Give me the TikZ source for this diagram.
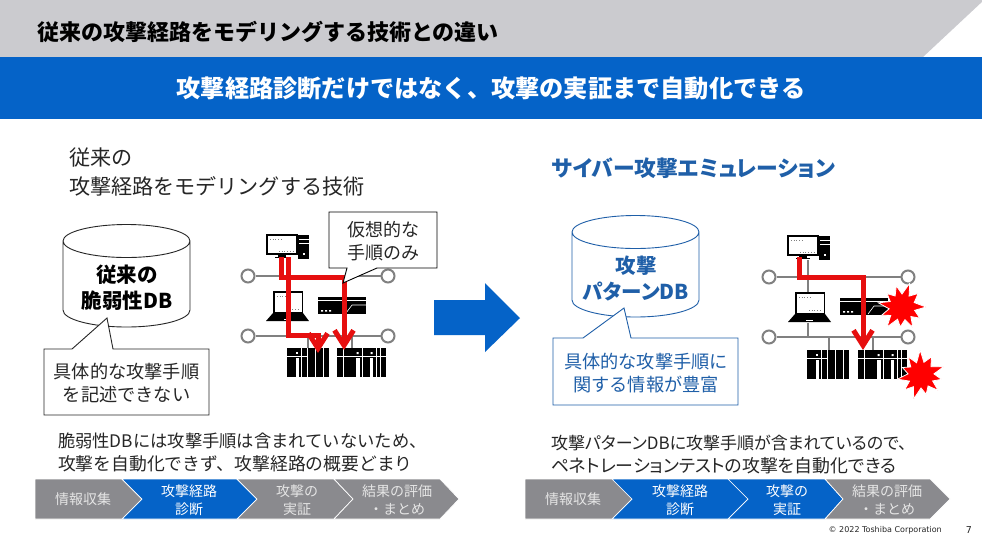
\documentclass[tikz,border=0pt]{standalone}
\usepackage{fontspec}
\setmainfont{Noto Sans CJK JP}
\newfontfamily\latinfoot{DejaVu Sans}
\newfontfamily\paltjp[RawFeature=+palt]{Noto Sans CJK JP}
\usetikzlibrary{arrows.meta,shapes.geometric}
\definecolor{tosblue}{HTML}{0563C8}
\definecolor{hdrgray}{HTML}{CBCBCF}
\definecolor{chevgray}{HTML}{8A8A8E}
\definecolor{netgray}{HTML}{808080}
\definecolor{darktxt}{HTML}{262626}
\definecolor{calloutblue}{HTML}{1F5FA8}
\definecolor{attackred}{HTML}{E60F0F}
\newcommand{\fs}[2]{\fontsize{#1}{#2}\selectfont}
\tikzset{
  x=1pt,y=-1pt,
  txt/.style={inner sep=0,outer sep=0,text=darktxt,align=center},
  txtl/.style={inner sep=0,outer sep=0,text=darktxt,align=left,anchor=west},
  chev/.style={draw=white,line width=.7pt,line join=miter},
  chevtxt/.style={inner sep=0,text=#1,align=center,font=\fs{14}{18}},
  endcircle/.style={circle,draw=netgray,line width=2pt,fill=white,minimum size=13pt,inner sep=0},
  netline/.style={draw=netgray,line width=1.6pt},
  redpath/.style={draw=attackred,line width=5pt,-{Straight Barb[length=15pt,width=19pt,line width=5pt]}},
  pics/spikes/.style={code={
    \fill[red,draw=white,line width=.8pt] (0:24) -- (15:13) -- (32:21) -- (47:13) -- (62:23) -- (77:13) -- (95:20) -- (110:13) -- (127:25) -- (143:14) -- (158:22) -- (172:13) -- (190:24) -- (205:13) -- (222:20) -- (238:13) -- (255:22) -- (270:13) -- (288:25) -- (303:13) -- (320:21) -- (340:13) -- cycle;
  }},
  pics/desktop/.style={code={
    \fill[black] (0,0) rectangle (32,21);
    \fill[white] (2,2) rectangle (30,19);
    \fill[black] (12,21) rectangle (20,23);
    \fill[black] (9,23) rectangle (23,24);
    \fill[black] (32,1) rectangle (43,25);
    \fill[white] (33,5) rectangle (43,6);
    \fill[white] (33,9) rectangle (43,10);
    \fill[white] (37,19) rectangle (39,21);
    \draw[gray,dotted,line width=.7pt] (4,5) -- (17,5) (13,17) -- (28,17);
  }},
  pics/laptop/.style={code={
    \fill[black] (7,0) rectangle (37,23);
    \fill[white] (8.5,1.5) rectangle (35.5,21);
    \fill[black] (7,22) -- (37,22) -- (43,30) -- (0,30) -- cycle;
    \fill[white] (18,27.5) rectangle (25,29);
    \draw[gray,dotted,line width=.7pt] (11,5) -- (22,5) (21,18) -- (33,18);
  }},
  pics/netswitch/.style={code={
    \fill[black] (0,0) rectangle (48,17);
    \fill[white] (0,3) rectangle (48,4.2);
    \fill[white] (3,13) rectangle (5,14.5) (7,13) rectangle (9,14.5) (11,13) rectangle (13,14.5);
    \draw[white,line width=.6pt] (28,16) -- (34,8) -- (48,8);
  }},
  pics/plcone/.style={code={
    \fill[black] (0,0) rectangle (42,29);
    \fill[white] (0,7.5) rectangle (20,8.2);
    \fill[white] (8.5,4) rectangle (11,6);
    \fill[white] (8.5,10) rectangle (11.5,29);
    \fill[white] (20,0) rectangle (20.8,29);
    \fill[white] (28,0) rectangle (28.8,29);
    \fill[white] (36,0) rectangle (36.8,29);
    \fill[white] (14,0) rectangle (14.8,29);
  }},
  pics/plctwo/.style={code={
    \fill[black] (0,0) rectangle (49,29);
    \fill[white] (0,8) rectangle (49,8.7);
    \fill[white] (6,0) rectangle (6.8,29);
    \fill[white] (25,0) rectangle (25.8,29);
    \fill[white] (39,0) rectangle (39.8,29);
    \fill[white] (43,0) rectangle (43.8,29);
    \fill[white] (19,10) rectangle (22.5,29);
    \fill[white] (33,10) rectangle (36,29);
    \fill[white] (19.5,4) rectangle (21.5,6) (33.5,4) rectangle (35.5,6);
  }},
}
\begin{document}
\begin{tikzpicture}
\useasboundingbox (0,0) rectangle (982,550);
\fill[white] (0,0) rectangle (982,550);
% header
\fill[hdrgray] (0,0) -- (984,0) -- (923,57) -- (0,57) -- cycle;
\fill[tosblue] (0,57) rectangle (982,119);
\node[txtl,font=\fs{22}{26}\bfseries,text=black] (title) at (37,32) {従来の攻撃経路をモデリングする技術との違い};
\node[txt,font=\fs{24.2}{28}\bfseries,text=white] (band) at (491,88) {攻撃経路診断だけではなく、攻撃の実証まで自動化できる};
% section headings
\node[txtl,font=\fs{21.1}{29}] (lefthead) at (69,172) {従来の\\攻撃経路をモデリングする技術};
\node[txtl,font=\paltjp\fs{21.8}{26}\bfseries,text=calloutblue] (righthead) at (552,168) {サイバー攻撃エミュレーション};
% left cylinder
\draw[line width=.9pt,draw=darktxt,fill=white] (63,241) arc[start angle=180,end angle=0,x radius=63.5,y radius=16.5]
  arc[start angle=0,end angle=-180,x radius=63.5,y radius=16.5] -- (63,310)
  arc[start angle=180,end angle=0,x radius=63.5,y radius=17] -- (190,241);
\node[txt,font=\fs{20.5}{26}\bfseries,text=black] (leftdb) at (127,288) {従来の\\脆弱性DB};
\draw[line width=.9pt,draw=darktxt,fill=white] (44,349) -- (72,349) -- (107,318) -- (113,349) -- (209,349) -- (209,415) -- (44,415) -- cycle;
\node[txt,font=\fs{18.2}{23}] (leftnote) at (126.5,383) {具体的な攻撃手順\\を記述できない};
% left network
\node[endcircle] (la) at (248,276) {};
\node[endcircle] (lb) at (388,276) {};
\node[endcircle] (lc) at (248,336) {};
\node[endcircle] (ld) at (388,336) {};
\draw[netline] (la) -- (lb);
\draw[netline] (lc) -- (ld);
\draw[netline] (308,336) -- (308,348);
\draw[netline] (352,336) -- (352,348);
\pic at (266,234) {desktop};
\pic at (266,291) {laptop};
\pic at (318,297) {netswitch};
\pic at (287,348) {plcone};
\pic at (337,348) {plctwo};
\coordinate (ls1) at (288,257);
\coordinate (le1) at (318,353);
\coordinate (ls2) at (281.5,257);
\coordinate (le2) at (344,350);
\draw[redpath] (ls1) -- (288,335) -- (318,335) -- (le1);
\draw[redpath] (ls2) -- (281.5,277) -- (344,277) -- (le2);
% left callout 2
\draw[line width=.9pt,draw=black,fill=white] (329,212) -- (437,212) -- (437,268) -- (377,268) -- (343,283) -- (347,268) -- (329,268) -- cycle;
\node[txt,font=\fs{18}{22.5}] (virt) at (383,241) {仮想的な\\手順のみ};
% big arrow
\fill[tosblue] (434,300) -- (485,300) -- (485,283) -- (520,318) -- (485,352) -- (485,335) -- (434,335) -- cycle;
% right cylinder
\draw[line width=.9pt,draw=calloutblue,fill=white] (572,232) arc[start angle=180,end angle=0,x radius=63.5,y radius=16.5]
  arc[start angle=0,end angle=-180,x radius=63.5,y radius=16.5] -- (572,300)
  arc[start angle=180,end angle=0,x radius=63.5,y radius=17] -- (699,232);
\node[txt,font=\paltjp\fs{20.5}{26}\bfseries,text=calloutblue] (rightdb) at (636,278) {攻撃\\パターンDB};
\draw[line width=.9pt,draw=calloutblue,fill=white] (553,338) -- (583,338) -- (624,308) -- (631,338) -- (738,338) -- (738,405) -- (553,405) -- cycle;
\node[txt,font=\fs{18.2}{23},text=calloutblue] (rightnote) at (646,373.5) {具体的な攻撃手順に\\関する情報が豊富};
% right network
\node[endcircle] (ra) at (769,277) {};
\node[endcircle] (rb) at (908,277) {};
\node[endcircle] (rc) at (769,337) {};
\node[endcircle] (rd) at (908,337) {};
\draw[netline] (ra) -- (rb);
\draw[netline] (rc) -- (rd);
\draw[netline] (808,260) -- (808,292);
\draw[netline] (808,323) -- (808,337);
\draw[netline] (829,337) -- (829,350);
\draw[netline] (873,337) -- (873,350);
\pic at (787,235) {desktop};
\pic at (788,292) {laptop};
\pic at (840,298) {netswitch};
\pic at (807,350) {plcone};
\pic at (858,350) {plctwo};
\pic at (902,307) {spikes};
\pic[rotate=20] at (921,375) {spikes};
\coordinate (rs) at (799,257);
\coordinate (re) at (863,350);
\draw[redpath] (rs) -- (799,277) -- (863,277) -- (re);
% descriptions
\node[txtl,font=\fs{17.3}{23}] (leftdesc) at (58,452.5) {脆弱性DBには攻撃手順は含まれていないため、\\{\fs{17.8}{23}攻撃を自動化できず、攻撃経路の概要どまり}};
\node[txtl,font=\paltjp\fs{17}{23}] (rightdesc) at (551,454.5) {攻撃パターンDBに攻撃手順が含まれているので、\\{\fs{17.9}{23}ペネトレーションテストの攻撃を自動化できる}};
% left chevrons
\fill[chevgray,chev] (35,479) -- (122,479) -- (142,499) -- (122,519) -- (35,519) -- cycle;
\fill[tosblue,chev] (122,479) -- (237,479) -- (257,499) -- (237,519) -- (122,519) -- (142,499) -- cycle;
\fill[chevgray,chev] (237,479) -- (334,479) -- (353,499) -- (334,519) -- (237,519) -- (257,499) -- cycle;
\fill[chevgray,chev] (334,479) -- (440,479) -- (459,499) -- (440,519) -- (334,519) -- (353,499) -- cycle;
\node[chevtxt=white!90!black] (l1) at (83,499) {情報収集};
\node[chevtxt=white] (l2) at (189,500) {攻撃経路\\診断};
\node[chevtxt=white!90!black] (l3) at (297,500) {攻撃の\\実証};
\node[chevtxt=white!90!black] (l4) at (397,500) {結果の評価\\・まとめ};
% right chevrons
\fill[chevgray,chev] (525,479) -- (612,479) -- (632,499) -- (612,519) -- (525,519) -- cycle;
\fill[tosblue,chev] (612,479) -- (728,479) -- (748,499) -- (728,519) -- (612,519) -- (632,499) -- cycle;
\fill[tosblue,chev] (728,479) -- (825,479) -- (843,499) -- (825,519) -- (728,519) -- (748,499) -- cycle;
\fill[chevgray,chev] (825,479) -- (930,479) -- (950,499) -- (930,519) -- (825,519) -- (843,499) -- cycle;
\node[chevtxt=white!90!black] (r1) at (573,499) {情報収集};
\node[chevtxt=white] (r2) at (680,500) {攻撃経路\\診断};
\node[chevtxt=white] (r3) at (787,500) {攻撃の\\実証};
\node[chevtxt=white!90!black] (r4) at (887,500) {結果の評価\\・まとめ};
% footer
\node[inner sep=0,anchor=east,font=\latinfoot\fs{8}{9},text=darktxt] (copy) at (942,530) {© 2022 Toshiba Corporation};
\node[inner sep=0,font=\latinfoot\fs{9.5}{11},text=darktxt] (pageno) at (969,530.5) {7};
\end{tikzpicture}
\end{document}
